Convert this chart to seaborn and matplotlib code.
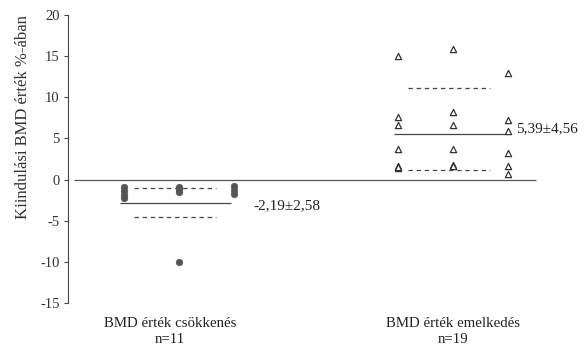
import numpy as np
import pandas as pd
import matplotlib
matplotlib.use("Agg")
import matplotlib.pyplot as plt
import seaborn as sns

# ---- data ----
categories = ["BMD érték csökkenés\nn=11", "BMD érték emelkedés\nn=19"]
# group 1 (decrease), three columns of points
dec_col = [0, 0, 0, 0, 1, 1, 1, 1, 2, 2, 2]
dec_val = [-0.9, -1.4, -1.9, -2.3, -0.9, -1.2, -1.5, -10.0, -0.8, -1.3, -1.8]
# group 2 (increase), three columns of points
inc_col = [0, 0, 0, 0, 0, 0, 0, 1, 1, 1, 1, 1, 1, 2, 2, 2, 2, 2, 2]
inc_val = [15.0, 7.6, 6.6, 3.7, 1.6, 1.4, 1.5, 15.9, 8.2, 6.6, 3.7, 1.8, 1.6,
           13.0, 7.2, 5.9, 3.2, 1.7, 0.7]
# summary lines as drawn (mean, upper, lower)
mean_lines = [-2.8, 5.5]
upper_lines = [-1.0, 11.1]
lower_lines = [-4.6, 1.2]
annotations = ["-2,19±2,58", "5,39±4,56"]
annot_y = [-3.2, 6.2]
yticks = [-15, -10, -5, 0, 5, 10, 15, 20]
ylabel = "Kiindulási BMD érték %-ában"

sns.set_theme(style="white")
plt.rcParams["font.family"] = ["Liberation Serif", "DejaVu Serif"]

col_step = 0.2
df_dec = pd.DataFrame({"x": [0 + (c - 1) * col_step for c in dec_col], "y": dec_val})
df_inc = pd.DataFrame({"x": [1 + (c - 1) * col_step for c in inc_col], "y": inc_val})

fig = plt.figure(figsize=(5.88, 3.48), dpi=100)
ax = fig.add_axes([68 / 588, 45 / 348, 1 - 68 / 588, (303 - 15) / 348])

ax.hlines(0, -0.383, 1.303, color="#555555", lw=0.9, zorder=1)

sns.scatterplot(data=df_dec, x="x", y="y", ax=ax, color="#555555", marker="o",
                s=24, edgecolor="#555555", linewidth=0.3, zorder=3)
sns.scatterplot(data=df_inc, x="x", y="y", ax=ax, marker="^", s=20,
                facecolor="white", edgecolor="#333333", linewidth=0.9, zorder=3)

for i in range(2):
    ax.hlines(mean_lines[i], i - 0.215, i + 0.19, color="#444444", lw=0.9, zorder=2)
    ax.hlines([upper_lines[i], lower_lines[i]], i - 0.165, i + 0.135,
              color="#444444", lw=0.9, linestyles=(0, (3.5, 3)), zorder=2)

ax.text(0.272, annot_y[0], annotations[0], fontsize=11, va="center", ha="left", color="#222222")
ax.text(1.23, annot_y[1], annotations[1], fontsize=11, va="center", ha="left", color="#222222")

ax.set_xlim(-0.405, 1.493)
ax.set_ylim(-15, 20)
ax.set_yticks(yticks)
ax.set_yticklabels([str(t) for t in yticks], fontsize=10.5, color="#333333")
ax.set_xticks([])
ax.set_xlabel("")
ax.set_ylabel(ylabel, fontsize=12, color="#333333")
ax.yaxis.set_label_coords(-0.071, 0.645)
ax.tick_params(axis="y", direction="out", length=3, width=0.8, color="#444444", pad=3, left=True)
for s in ["top", "right", "bottom"]:
    ax.spines[s].set_visible(False)
ax.spines["left"].set_color("#444444")
ax.spines["left"].set_linewidth(0.8)

label_x = [-0.033, 1.0]
for lx, cat in zip(label_x, categories):
    ax.text(lx, -15 - 14 / 8.23, cat, ha="center", va="top", fontsize=10.7,
            color="#222222", linespacing=1.3)

fig.savefig("out.png", dpi=100)
